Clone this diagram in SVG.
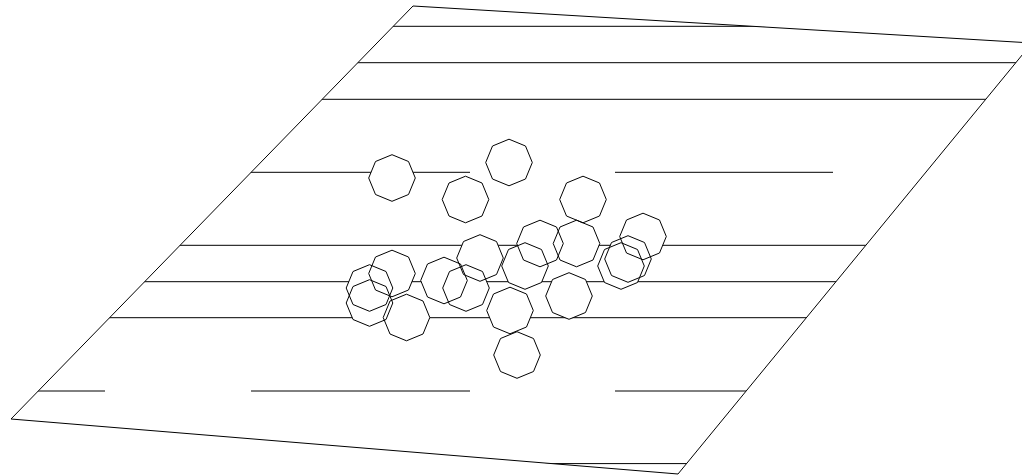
<svg xmlns="http://www.w3.org/2000/svg" xmlns:xlink="http://www.w3.org/1999/xlink" width="1022" height="476" viewBox="0 0 1022 476">
<style>
.edge{fill:none;stroke:#000;stroke-width:1}
.ln{stroke:#000;stroke-width:1}
.oct-fill{fill:#fff;stroke:none}
.oct{fill:none;stroke:#000;stroke-width:1}
</style>
<defs>
<polygon id="octagon" points="0,-23.3 16.5,-16.5 23.3,0 16.5,16.5 0,23.3 -16.5,16.5 -23.3,0 -16.5,-16.5"/>
<clipPath id="plane"><polygon points="413,6 1032,43 678,474 11,419"/></clipPath>
</defs>
<rect width="1022" height="476" fill="#fff"/>
<g id="lines" clip-path="url(#plane)">
<line class="ln" x1="0" y1="26.3" x2="1022" y2="26.3"/>
<line class="ln" x1="0" y1="62.7" x2="1022" y2="62.7"/>
<line class="ln" x1="0" y1="99.3" x2="1022" y2="99.3"/>
<line class="ln" x1="0" y1="172.3" x2="470" y2="172.3"/>
<line class="ln" x1="615" y1="172.3" x2="833" y2="172.3"/>
<line class="ln" x1="0" y1="245.3" x2="1022" y2="245.3"/>
<line class="ln" x1="0" y1="281.7" x2="1022" y2="281.7"/>
<line class="ln" x1="0" y1="317.7" x2="1022" y2="317.7"/>
<line class="ln" x1="0" y1="391" x2="105" y2="391"/>
<line class="ln" x1="251" y1="391" x2="470" y2="391"/>
<line class="ln" x1="615" y1="391" x2="1022" y2="391"/>
<line class="ln" x1="0" y1="463.6" x2="1022" y2="463.6"/>
</g>
<g id="plane-outline">
<polygon class="edge" points="413,6 1032,43 678,474 11,419"/>
</g>
<g id="octagon-fills">
<use xlink:href="#octagon" class="oct-fill" x="392" y="178"/>
<use xlink:href="#octagon" class="oct-fill" x="509" y="162.5"/>
<use xlink:href="#octagon" class="oct-fill" x="465.5" y="199.5"/>
<use xlink:href="#octagon" class="oct-fill" x="583" y="199.5"/>
<use xlink:href="#octagon" class="oct-fill" x="540" y="243.5"/>
<use xlink:href="#octagon" class="oct-fill" x="576.5" y="243.5"/>
<use xlink:href="#octagon" class="oct-fill" x="643" y="236.5"/>
<use xlink:href="#octagon" class="oct-fill" x="628" y="259"/>
<use xlink:href="#octagon" class="oct-fill" x="621" y="266"/>
<use xlink:href="#octagon" class="oct-fill" x="480" y="258"/>
<use xlink:href="#octagon" class="oct-fill" x="525" y="266"/>
<use xlink:href="#octagon" class="oct-fill" x="392" y="273.5"/>
<use xlink:href="#octagon" class="oct-fill" x="369.5" y="288"/>
<use xlink:href="#octagon" class="oct-fill" x="369.5" y="303"/>
<use xlink:href="#octagon" class="oct-fill" x="406.5" y="317.5"/>
<use xlink:href="#octagon" class="oct-fill" x="444" y="280.5"/>
<use xlink:href="#octagon" class="oct-fill" x="466" y="288"/>
<use xlink:href="#octagon" class="oct-fill" x="569" y="296"/>
<use xlink:href="#octagon" class="oct-fill" x="510" y="310.5"/>
<use xlink:href="#octagon" class="oct-fill" x="517" y="355"/>
</g>
<g id="octagons">
<use id="o1" xlink:href="#octagon" class="oct" x="392" y="178"/>
<use id="o2" xlink:href="#octagon" class="oct" x="509" y="162.5"/>
<use id="o3" xlink:href="#octagon" class="oct" x="465.5" y="199.5"/>
<use id="o4" xlink:href="#octagon" class="oct" x="583" y="199.5"/>
<use id="o5" xlink:href="#octagon" class="oct" x="540" y="243.5"/>
<use id="o6" xlink:href="#octagon" class="oct" x="576.5" y="243.5"/>
<use id="o7" xlink:href="#octagon" class="oct" x="643" y="236.5"/>
<use id="o8" xlink:href="#octagon" class="oct" x="628" y="259"/>
<use id="o9" xlink:href="#octagon" class="oct" x="621" y="266"/>
<use id="o10" xlink:href="#octagon" class="oct" x="480" y="258"/>
<use id="o11" xlink:href="#octagon" class="oct" x="525" y="266"/>
<use id="o12" xlink:href="#octagon" class="oct" x="392" y="273.5"/>
<use id="o13" xlink:href="#octagon" class="oct" x="369.5" y="288"/>
<use id="o14" xlink:href="#octagon" class="oct" x="369.5" y="303"/>
<use id="o15" xlink:href="#octagon" class="oct" x="406.5" y="317.5"/>
<use id="o16" xlink:href="#octagon" class="oct" x="444" y="280.5"/>
<use id="o17" xlink:href="#octagon" class="oct" x="466" y="288"/>
<use id="o18" xlink:href="#octagon" class="oct" x="569" y="296"/>
<use id="o19" xlink:href="#octagon" class="oct" x="510" y="310.5"/>
<use id="o20" xlink:href="#octagon" class="oct" x="517" y="355"/>
</g>
</svg>
